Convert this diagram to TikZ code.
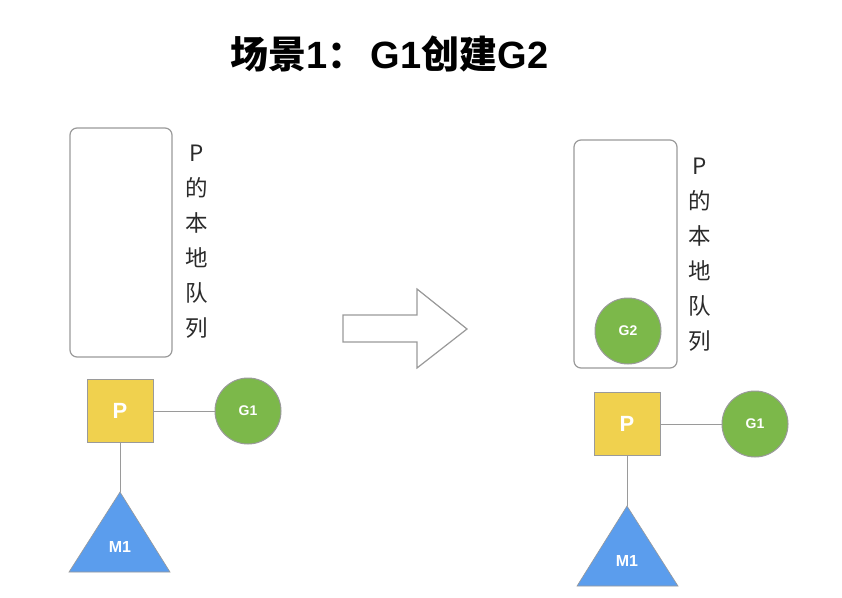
\documentclass[tikz,border=0pt]{standalone}
\usepackage{fontspec}
\setmainfont{Liberation Sans}
\newfontfamily\cjk{Noto Sans CJK SC}
\newfontfamily\cjkb{Noto Sans CJK SC Bold}
\usetikzlibrary{positioning}
\definecolor{pyellow}{HTML}{F0D14E}
\definecolor{ggreen}{HTML}{7CB84A}
\definecolor{mblue}{HTML}{5B9DED}
\definecolor{edgegray}{HTML}{9A9A9A}
\definecolor{txtgray}{HTML}{2A2A2A}
\tikzset{
  queuebox/.style={draw=edgegray, line width=1.2pt, rounded corners=7pt, fill=white},
  pbox/.style={draw=edgegray, line width=1pt, fill=pyellow, minimum width=66pt, minimum height=63pt, inner sep=0pt, text=white, font=\bfseries\fontsize{22}{22}\selectfont},
  gnode/.style={circle, draw=edgegray, line width=1pt, fill=ggreen, minimum size=66pt, inner sep=0pt, text=white, font=\bfseries\fontsize{14}{14}\selectfont},
  mlabel/.style={text=white, font=\bfseries\fontsize{16}{16}\selectfont},
  conn/.style={draw=edgegray, line width=1pt},
  vlabel/.style={text=txtgray, align=center, font=\cjk\fontsize{22.5}{35}\selectfont},
  titlelabel/.style={text=black, font=\bfseries\fontsize{38}{38}\selectfont}
}
\begin{document}
\begin{tikzpicture}[x=1pt,y=-1pt]
\useasboundingbox (0,0) rectangle (842,597);
\fill[white] (0,0) rectangle (842,597);
% title
\node[titlelabel] (title) at (389.5,54) {{\cjkb 场景}1{\cjkb ：}\hspace{5pt}G1{\cjkb 创建}G2};
% left panel
\node[queuebox, minimum width=102pt, minimum height=229pt] (lq) at (121,242.5) {};
\node[vlabel] (lvl) at (197,242) {P\\的\\本\\地\\队\\列};
\node[pbox] (lp) at (120,411) {P};
\node[gnode] (lg1) at (248,411) {G1};
\coordinate (lmtop) at (120,492);
\draw[conn] (lp.east) -- (lg1.west);
\draw[conn] (lp.south) -- (lmtop);
\fill[mblue, draw=edgegray, line width=0.6pt] (lmtop) -- (170,572) -- (69,572) -- cycle;
\node[mlabel] (lm1) at (120,547) {M1};
% arrow
\draw[draw=edgegray, line width=1.2pt, fill=white] (343,315) -- (417,315) -- (417,289) -- (467,329) -- (417,368) -- (417,342) -- (343,342) -- cycle;
% right panel
\node[queuebox, minimum width=103pt, minimum height=228pt] (rq) at (625.5,254) {};
\node[gnode] (rg2) at (628,331) {G2};
\node[vlabel] (rvl) at (700,255) {P\\的\\本\\地\\队\\列};
\node[pbox] (rp) at (627,424) {P};
\node[gnode] (rg1) at (755,424) {G1};
\coordinate (rmtop) at (627,506);
\draw[conn] (rp.east) -- (rg1.west);
\draw[conn] (rp.south) -- (rmtop);
\fill[mblue, draw=edgegray, line width=0.6pt] (rmtop) -- (678,586) -- (577,586) -- cycle;
\node[mlabel] (rm1) at (627,561) {M1};
\end{tikzpicture}
\end{document}
